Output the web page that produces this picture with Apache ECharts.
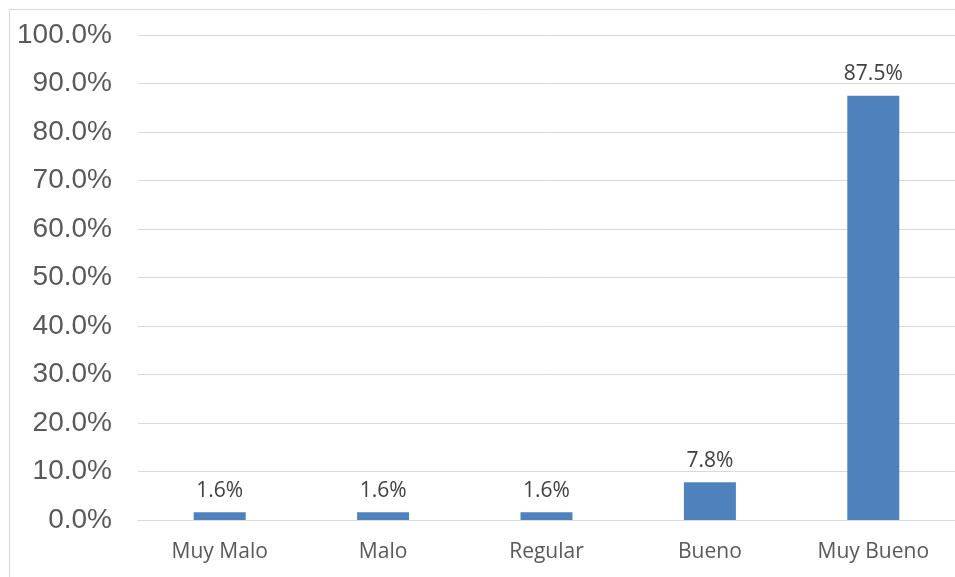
<!DOCTYPE html>
<html>
<head>
<meta charset="utf-8">
<script src="https://cdn.jsdelivr.net/npm/echarts@6/dist/echarts.min.js"></script>
<style>
  html, body { margin: 0; padding: 0; background: #fff; }
  #chart { width: 955px; height: 577px; }
</style>
</head>
<body>
<div id="chart"></div>
<script>
// Satisfaction ratings, percentage of responses per category
const categories = ['Muy Malo', 'Malo', 'Regular', 'Bueno', 'Muy Bueno'];
const percentages = [1.6, 1.6, 1.6, 7.8, 87.5];

const chart = echarts.init(document.getElementById('chart'));

chart.setOption({
  animation: false,
  backgroundColor: '#ffffff',
  graphic: [{
    type: 'rect',
    shape: { x: 9.5, y: 9.5, width: 1000, height: 1000 },
    style: { fill: 'none', stroke: '#d9d9d9', lineWidth: 1 },
    silent: true
  }],
  grid: { left: 138, top: 35, width: 820, height: 485, containLabel: false },
  xAxis: {
    type: 'category',
    data: categories,
    axisLine: { show: true, lineStyle: { color: '#d9d9d9', width: 1 } },
    axisTick: { show: false },
    axisLabel: {
      color: '#595959',
      fontFamily: 'Open Sans, sans-serif',
      fontSize: 21,
      margin: 22
    }
  },
  yAxis: {
    type: 'value',
    min: 0,
    max: 100,
    interval: 10,
    axisLine: { show: false },
    axisTick: { show: false },
    splitLine: { lineStyle: { color: '#d9d9d9', width: 1 } },
    axisLabel: {
      color: '#595959',
      fontFamily: 'Liberation Sans, Arial, sans-serif',
      fontSize: 28,
      margin: 26,
      formatter: v => v.toFixed(1) + '%'
    }
  },
  series: [{
    type: 'bar',
    data: percentages,
    barWidth: 52,
    itemStyle: { color: '#4f81bd' },
    label: {
      show: true,
      position: 'top',
      distance: 11,
      color: '#404040',
      fontFamily: 'Open Sans, sans-serif',
      fontSize: 21,
      formatter: p => p.value.toFixed(1) + '%'
    }
  }]
});
</script>
</body>
</html>
